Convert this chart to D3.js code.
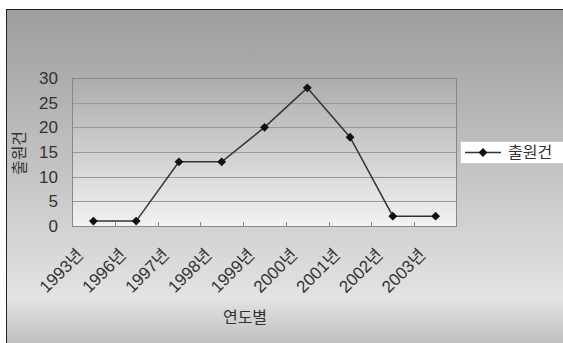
<!DOCTYPE html>
<html>
<head>
<meta charset="utf-8">
<script src="https://cdn.jsdelivr.net/npm/d3@7"></script>
<style>
  body { margin: 0; background: #fff; }
  text { font-family: "Liberation Sans", "Noto Sans CJK KR", sans-serif; fill: #333; }
</style>
</head>
<body>
<div id="chart"></div>
<script>
var years = ["1993년", "1996년", "1997년", "1998년", "1999년", "2000년", "2001년", "2002년", "2003년"];
var counts = [1, 1, 13, 13, 20, 28, 18, 2, 2];
var yTicks = [0, 5, 10, 15, 20, 25, 30];
var seriesName = "출원건";

var width = 563, height = 343;
var plot = { left: 72, top: 78, right: 457, bottom: 226 };

var svg = d3.select("#chart")
            .append("svg")
            .attr("width", width)
            .attr("height", height);

var defs = svg.append("defs");

var bg = defs.append("linearGradient")
             .attr("id", "bg")
             .attr("x1", 0).attr("y1", 0).attr("x2", 0).attr("y2", 1);
bg.append("stop").attr("offset", "0%").attr("stop-color", "#9d9d9d");
bg.append("stop").attr("offset", "84%").attr("stop-color", "#e3e3e3");
bg.append("stop").attr("offset", "100%").attr("stop-color", "#b9b9b9");

var pg = defs.append("linearGradient")
             .attr("id", "pg")
             .attr("x1", 0).attr("y1", 0).attr("x2", 0).attr("y2", 1);
pg.append("stop").attr("offset", "0%").attr("stop-color", "#acacac");
pg.append("stop").attr("offset", "100%").attr("stop-color", "#f2f2f2");

// chart background
svg.append("rect")
   .attr("x", 6.5)
   .attr("y", 9.5)
   .attr("width", width)
   .attr("height", height)
   .attr("fill", "url(#bg)")
   .attr("stroke", "#222")
   .attr("stroke-width", 1);

var x = d3.scaleBand()
          .domain(years)
          .range([plot.left, plot.right]);

var y = d3.scaleLinear()
          .domain([0, 30])
          .range([plot.bottom, plot.top]);

// plot area
svg.append("rect")
   .attr("x", plot.left)
   .attr("y", plot.top)
   .attr("width", plot.right - plot.left)
   .attr("height", plot.bottom - plot.top)
   .attr("fill", "url(#pg)");

// gridlines
svg.append("g")
   .selectAll("line")
   .data(yTicks.filter(function (d) { return d > 0; }))
   .enter()
   .append("line")
   .attr("x1", plot.left)
   .attr("x2", plot.right)
   .attr("y1", function (d) { return Math.round(y(d)) + 0.5; })
   .attr("y2", function (d) { return Math.round(y(d)) + 0.5; })
   .attr("stroke", "#999")
   .attr("stroke-width", 1);

// plot border
svg.append("rect")
   .attr("x", plot.left + 0.5)
   .attr("y", plot.top + 0.5)
   .attr("width", plot.right - plot.left - 1)
   .attr("height", plot.bottom - plot.top)
   .attr("fill", "none")
   .attr("stroke", "#888")
   .attr("stroke-width", 1);

// x ticks between categories (pointing up into plot)
svg.append("g")
   .selectAll("line")
   .data(years.slice(1))
   .enter()
   .append("line")
   .attr("x1", function (d) { return Math.round(x(d)) + 0.5; })
   .attr("x2", function (d) { return Math.round(x(d)) + 0.5; })
   .attr("y1", plot.bottom)
   .attr("y2", plot.bottom - 4)
   .attr("stroke", "#888");

// y axis labels
var yAxis = d3.axisLeft(y).tickValues(yTicks).tickSize(0).tickPadding(14);
var yg = svg.append("g")
            .attr("transform", "translate(" + plot.left + ",0)")
            .call(yAxis);
yg.select(".domain").remove();
yg.selectAll("text")
  .style("font-size", "17px")
  .attr("fill", "#333");

// x axis labels
var xAxis = d3.axisBottom(x).tickSize(0).tickPadding(0);
var xg = svg.append("g")
            .attr("transform", "translate(0," + plot.bottom + ")")
            .call(xAxis);
xg.select(".domain").remove();
xg.selectAll("text")
  .style("font-size", "17px")
  .attr("fill", "#333")
  .attr("text-anchor", "end")
  .attr("dy", null)
  .attr("y", 0)
  .attr("transform", "translate(-9,30) rotate(-45)");

// axis titles
svg.append("text")
   .attr("transform", "translate(25,153) rotate(-90)")
   .attr("text-anchor", "middle")
   .style("font-size", "16px")
   .text(seriesName);

svg.append("text")
   .attr("x", 245)
   .attr("y", 323)
   .attr("text-anchor", "middle")
   .style("font-size", "16px")
   .text("연도별");

// series line
var line = d3.line()
             .x(function (d, i) { return x(years[i]) + x.bandwidth() / 2; })
             .y(function (d) { return y(d); });

svg.append("path")
   .datum(counts)
   .attr("d", line)
   .attr("fill", "none")
   .attr("stroke", "#333")
   .attr("stroke-width", 1.5);

var diamond = d3.symbol().type(d3.symbolDiamond2).size(50);

svg.append("g")
   .selectAll("path")
   .data(counts)
   .enter()
   .append("path")
   .attr("d", diamond)
   .attr("transform", function (d, i) {
      return "translate(" + (x(years[i]) + x.bandwidth() / 2) + "," + y(d) + ")";
   })
   .attr("fill", "#111");

// legend
var lg = svg.append("g").attr("transform", "translate(460,141)");
lg.append("rect")
  .attr("x", 0.5)
  .attr("y", 0.5)
  .attr("width", 110)
  .attr("height", 22)
  .attr("fill", "#fff")
  .attr("stroke", "#ccc");
lg.append("line")
  .attr("x1", 5).attr("x2", 41)
  .attr("y1", 11.5).attr("y2", 11.5)
  .attr("stroke", "#333")
  .attr("stroke-width", 1.5);
lg.append("path")
  .attr("d", diamond)
  .attr("transform", "translate(23,11.5)")
  .attr("fill", "#111");
lg.append("text")
  .attr("x", 48)
  .attr("y", 17)
  .style("font-size", "16px")
  .text(seriesName);
</script>
</body>
</html>
